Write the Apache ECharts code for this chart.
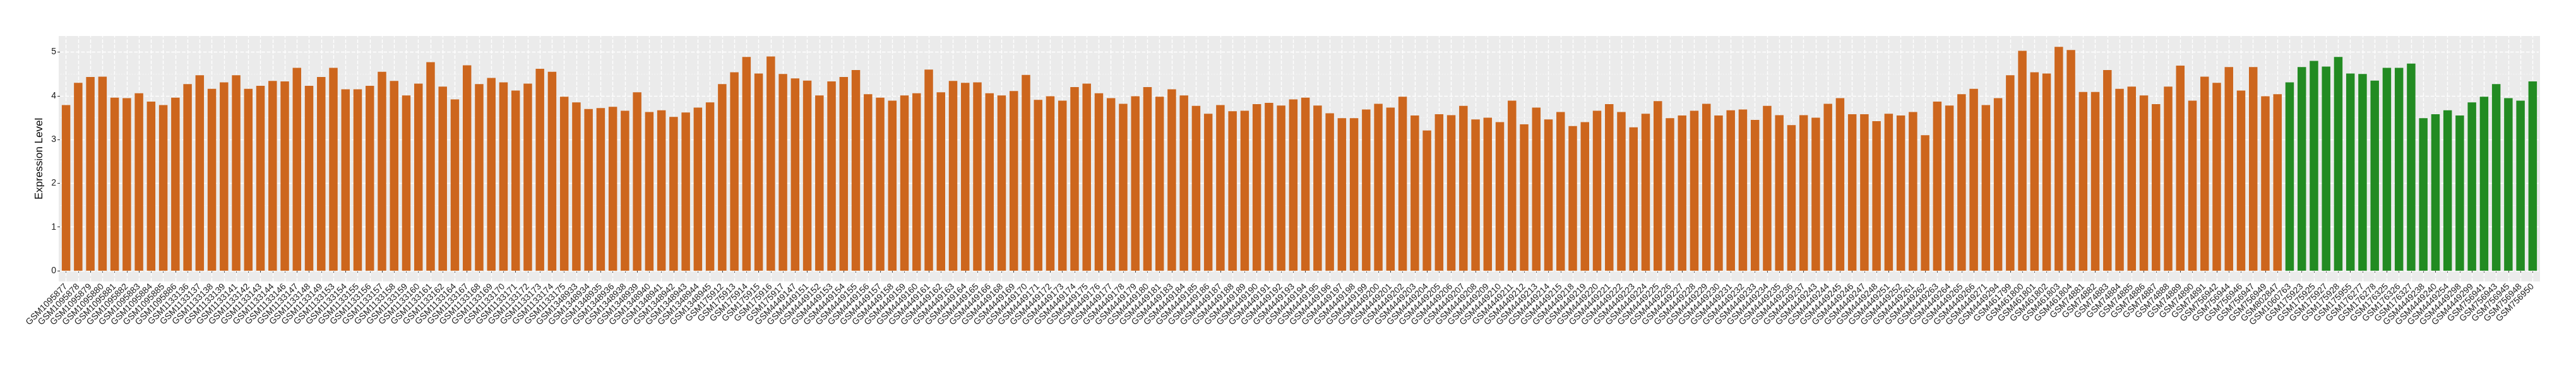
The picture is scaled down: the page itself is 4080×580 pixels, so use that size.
<!DOCTYPE html>
<html>
<head>
<meta charset="utf-8">
<script src="https://cdn.jsdelivr.net/npm/echarts@6/dist/echarts.min.js"></script>
<style>html,body{margin:0;padding:0;background:#fff}#c{width:4080px;height:580px}</style>
</head>
<body>
<div id="c"></div>
<script>
const tumorSamples = [
"GSM1095877","GSM1095878","GSM1095879","GSM1095880","GSM1095881","GSM1095882","GSM1095883","GSM1095884","GSM1095885","GSM1095886",
"GSM1133136","GSM1133137","GSM1133138","GSM1133139","GSM1133141","GSM1133142","GSM1133143","GSM1133144","GSM1133146","GSM1133147","GSM1133148","GSM1133149","GSM1133153","GSM1133154","GSM1133155","GSM1133156","GSM1133157","GSM1133158","GSM1133159","GSM1133160","GSM1133161","GSM1133162",
"GSM1133164","GSM1133167","GSM1133168","GSM1133169","GSM1133170","GSM1133171","GSM1133172","GSM1133173","GSM1133174","GSM1133175",
"GSM1348933","GSM1348934","GSM1348935","GSM1348936","GSM1348938","GSM1348939","GSM1348940","GSM1348941","GSM1348942","GSM1348943","GSM1348944","GSM1348945",
"GSM175912","GSM175913","GSM175914","GSM175915","GSM175916","GSM175917",
"GSM4449147","GSM4449151","GSM4449152","GSM4449153","GSM4449154","GSM4449155","GSM4449156","GSM4449157","GSM4449158","GSM4449159","GSM4449160","GSM4449161","GSM4449162","GSM4449163","GSM4449164","GSM4449165","GSM4449166",
"GSM4449168","GSM4449169","GSM4449170","GSM4449171","GSM4449172","GSM4449173","GSM4449174","GSM4449175","GSM4449176","GSM4449177","GSM4449178","GSM4449179","GSM4449180","GSM4449181",
"GSM4449183","GSM4449184","GSM4449185","GSM4449186","GSM4449187","GSM4449188","GSM4449189","GSM4449190","GSM4449191","GSM4449192","GSM4449193","GSM4449194","GSM4449195","GSM4449196","GSM4449197","GSM4449198","GSM4449199","GSM4449200",
"GSM4449201","GSM4449202","GSM4449203","GSM4449204","GSM4449205","GSM4449206","GSM4449207","GSM4449208","GSM4449209","GSM4449210","GSM4449211","GSM4449212","GSM4449213","GSM4449214","GSM4449215",
"GSM4449218","GSM4449219","GSM4449220","GSM4449221","GSM4449222","GSM4449223","GSM4449224","GSM4449225","GSM4449226","GSM4449227","GSM4449228","GSM4449229","GSM4449230","GSM4449231","GSM4449232","GSM4449233","GSM4449234","GSM4449235","GSM4449236","GSM4449237",
"GSM4449243","GSM4449244","GSM4449245","GSM4449246","GSM4449247","GSM4449248","GSM4449251","GSM4449252","GSM4449261","GSM4449262","GSM4449263","GSM4449264","GSM4449265","GSM4449266","GSM4449271","GSM4449294",
"GSM461799","GSM461800","GSM461801","GSM461802","GSM461803","GSM461804",
"GSM74881","GSM74882","GSM74883","GSM74884","GSM74885","GSM74886","GSM74887","GSM74888","GSM74889","GSM74890","GSM74891",
"GSM756942","GSM756944","GSM756946","GSM756947","GSM756949","GSM802847"
];
const tumorValues = [
3.79,4.30,4.43,4.44,3.96,3.95,4.06,3.87,3.79,3.96,
4.27,4.47,4.16,4.31,4.47,4.16,4.23,4.34,4.33,4.64,4.23,4.43,4.64,4.15,4.15,4.23,4.55,4.34,4.01,4.28,4.77,4.21,
3.92,4.70,4.27,4.41,4.31,4.12,4.28,4.62,4.55,3.98,
3.85,3.70,3.72,3.75,3.66,4.08,3.63,3.67,3.52,3.62,3.73,3.85,
4.27,4.54,4.89,4.51,4.90,4.50,
4.40,4.35,4.01,4.33,4.43,4.59,4.04,3.96,3.89,4.01,4.06,4.60,4.08,4.34,4.30,4.31,4.06,
4.01,4.11,4.48,3.91,3.99,3.89,4.20,4.28,4.06,3.95,3.82,3.99,4.20,3.98,
4.15,4.01,3.77,3.59,3.79,3.65,3.66,3.81,3.84,3.78,3.92,3.96,3.78,3.60,3.49,3.49,3.69,3.82,
3.73,3.98,3.55,3.21,3.58,3.56,3.77,3.46,3.50,3.40,3.89,3.35,3.73,3.46,3.63,
3.31,3.40,3.66,3.81,3.63,3.28,3.59,3.88,3.49,3.55,3.66,3.82,3.55,3.67,3.69,3.45,3.77,3.56,3.33,3.56,
3.50,3.82,3.95,3.58,3.58,3.42,3.59,3.55,3.63,3.10,3.87,3.78,4.04,4.16,3.79,3.95,
4.47,5.03,4.54,4.51,5.12,5.05,
4.09,4.09,4.59,4.16,4.21,4.01,3.81,4.21,4.69,3.89,4.44,
4.30,4.66,4.12,4.66,3.99,4.04
];
const normalSamples = [
"GSM1060763","GSM175923","GSM175925","GSM175927","GSM175928","GSM175955","GSM176277","GSM176278","GSM176325","GSM176326","GSM176327",
"GSM4449238","GSM4449240","GSM4449254","GSM4449298","GSM4449299","GSM756941","GSM756943","GSM756945","GSM756948","GSM756950"
];
const normalValues = [
4.31,4.66,4.80,4.67,4.89,4.51,4.50,4.35,4.64,4.64,4.74,
3.49,3.58,3.67,3.55,3.85,3.98,4.27,3.95,3.89,4.33
];
const yTickLabels = [0,1,2,3,4,5];
const yMinorLines = [0.5,1.5,2.5,3.5,4.5];

const tumorColor = '#CD661D';
const normalColor = '#228B22';

const categories = tumorSamples.concat(normalSamples);
const barData = tumorValues.map(v => ({value: v, itemStyle: {color: tumorColor}}))
  .concat(normalValues.map(v => ({value: v, itemStyle: {color: normalColor}})));

const FONT = '"Liberation Sans", Arial, Helvetica, sans-serif';
const chart = echarts.init(document.getElementById('c'), null, {renderer: 'canvas'});

const gridLines = [];
categories.forEach(c => gridLines.push({xAxis: c, lineStyle: {width: 1.4, color: '#FFFFFF'}}));
yTickLabels.forEach(v => gridLines.push({yAxis: v, lineStyle: {width: 1.4, color: '#FFFFFF'}}));
yMinorLines.forEach(v => gridLines.push({yAxis: v, lineStyle: {width: 0.7, color: '#F7F7F7'}}));

chart.setOption({
  animation: false,
  backgroundColor: '#FFFFFF',
  graphic: [{
    type: 'rect', z: -100, silent: true,
    shape: {x: 93, y: 57, width: 3930, height: 389},
    style: {fill: '#EBEBEB'}
  }],
  grid: {left: 95, right: 59, top: 57, bottom: 134, containLabel: false},
  xAxis: {
    type: 'category',
    data: categories,
    boundaryGap: true,
    axisLine: {show: false},
    axisTick: {show: true, alignWithLabel: true, length: 4, lineStyle: {color: '#333333', width: 1}},
    splitLine: {show: false},
    axisLabel: {
      interval: 0, rotate: 45, margin: 6,
      fontFamily: FONT, fontSize: 14, color: '#1A1A1A'
    }
  },
  yAxis: {
    type: 'value',
    min: -0.245, max: 5.37,
    axisLine: {show: false},
    axisTick: {show: true, length: 4, customValues: yTickLabels, lineStyle: {color: '#333333', width: 1}},
    axisLabel: {show: true, customValues: yTickLabels, margin: 6, fontFamily: FONT, fontSize: 14, color: '#1A1A1A'},
    splitLine: {show: false},
    name: 'Expression Level',
    nameLocation: 'middle',
    nameGap: 24,
    nameTextStyle: {fontFamily: FONT, fontSize: 17, color: '#000000'}
  },
  series: [
    {
      type: 'line', z: 1, silent: true,
      data: [],
      markLine: {
        silent: true, symbol: ['none', 'none'], animation: false,
        label: {show: false}, emphasis: {disabled: true},
        data: gridLines
      }
    },
    {
      type: 'bar', z: 5,
      barWidth: '70%',
      data: barData,
      silent: true
    }
  ]
});
</script>
</body>
</html>
